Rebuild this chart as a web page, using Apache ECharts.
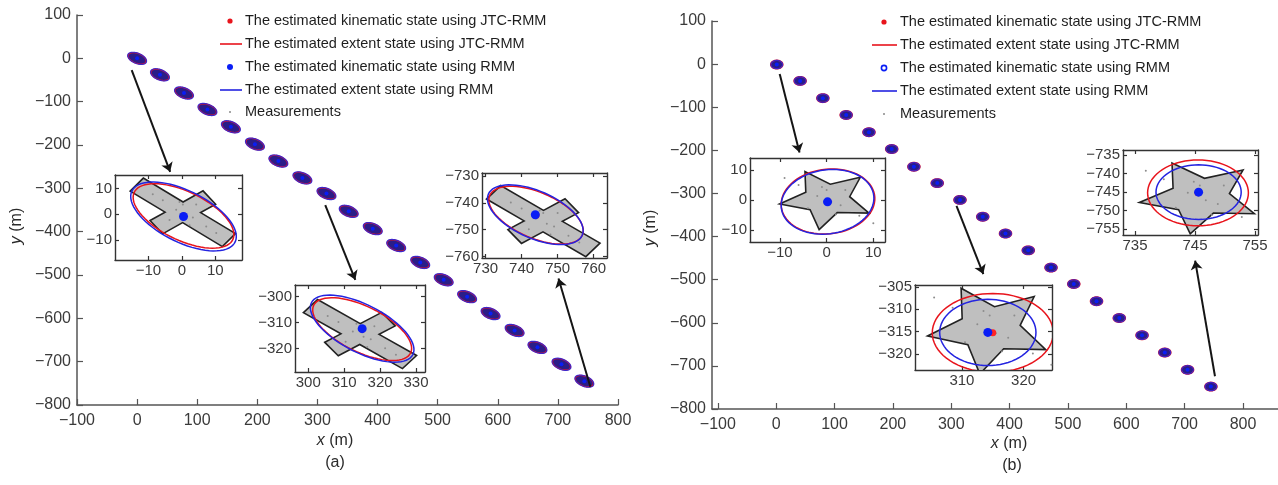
<!DOCTYPE html>
<html>
<head>
<meta charset="utf-8">
<title>JTC-RMM vs RMM tracking</title>
<script src="https://cdn.jsdelivr.net/npm/echarts@6/dist/echarts.min.js"></script>
<style>
html, body { margin: 0; padding: 0; background: #fff; }
#chart { width: 1278px; height: 485px; }
</style>
</head>
<body>
<div id="chart"></div>
<script>
// ---------- values ----------
// (a) cross target: estimated centre at each scan
const aCenterX = [0, 38, 78, 117, 156, 196, 235, 275, 315, 352, 392, 431, 471, 510, 549, 588, 628, 666, 706, 744];
const aCenterY = [0, -38, -80, -118, -158, -198, -237, -276, -312, -353, -393, -432, -471, -511, -550, -589, -628, -667, -706, -745];
// (b) star target
const bCenterX = [1, 41, 80, 120, 159, 198, 236, 276, 315, 354, 393, 432, 471, 510, 549, 588, 627, 666, 705, 745];
const bCenterY = [-1, -39, -79, -118, -158, -197, -238, -276, -315, -354, -393, -432, -472, -510, -550, -589, -629, -669, -709, -748];

// extent ellipses on the track: [semi axis 1, semi axis 2, orientation deg]
const aTrackJtcExt = [17, 10.5, -37];
const aTrackRmmExt = [18, 11, -38];
const bTrackJtcExt = [10.5, 10, 0];
const bTrackRmmExt = [10, 9.6, 0];

// zoomed scans (insets 1..3), scans 0, 8, 19
const aZoomJtc = [[0.5, -0.7], [315, -312.5], [744, -744.6]];
const aZoomRmm = [[0.5, -0.9], [315, -312.3], [743.8, -744.4]];
const aZoomTruth = [[0.3, 0.7], [314.4, -314.4], [746, -746.8]];
const aZoomJtcExt = [[17.5, 8.8, -36], [16.5, 8, -39], [15, 8, -35]];
const aZoomRmmExt = [[18.5, 9.3, -37], [17.5, 8.3, -40], [15.3, 8.2, -36]];

const bZoomJtc = [[0.3, -0.5], [315, -315.3], [745.5, -745.2]];
const bZoomRmm = [[0.2, -0.6], [314.2, -315.2], [745.6, -745]];
const bZoomTruth = [[0, 0.3], [314.5, -314.4], [745.8, -746.2]];
const bZoomJtcExt = [[11, 9.8, 65], [9.8, 8.8, 0], [8.4, 8.9, 0]];
const bZoomRmmExt = [[11, 9.6, 62], [7.8, 7.4, 0], [7.1, 7.4, 0]];

// true shapes: cross = two bars [half length, half width, angle deg]; star = [outer r, inner r, first tip deg]
const crossBars = [[17.5, 3.2, -38], [9.8, 3.2, 36]];
const starShape = [10.2, 5, 45];
// a few measurement points, relative to the true centre
const measOffsets = [[-6, 4.7], [-2, 1], [3, -2], [7, -5.5], [1, -1], [4, 3], [-4, -3], [10, -8], [-9, 7], [0, 3], [2, -5], [-1, 4]];

// arrows in main-axis coordinates: [tail, head]
const aArrows = [[[-9, -27], [55, -262]], [[313, -339], [363, -511]], [[754, -758], [701, -508]]];
const bArrows = [[[6, -23], [40, -205]], [[309, -329], [355, -487]], [[752, -724], [718, -456]]];

// tick values
const mainXTicks = [-100, 0, 100, 200, 300, 400, 500, 600, 700, 800];
const mainYTicks = [-800, -700, -600, -500, -400, -300, -200, -100, 0, 100];
const zoomTicks = [
  [[-10, 0, 10], [-10, 0, 10]],
  [[300, 310, 320, 330], [-320, -310, -300]],
  [[730, 740, 750, 760], [-760, -750, -740, -730]],
  [[-10, 0, 10], [-10, 0, 10]],
  [[310, 320], [-320, -315, -310, -305]],
  [[735, 745, 755], [-755, -750, -745, -740, -735]]
];

// ---------- layout ----------
const FONT = '"Liberation Sans", Arial, Helvetica, sans-serif';
// [left, top, width, height] of each axes box, and its [x range, y range]
const boxes = [
  [77, 15, 541, 390], [115, 175, 127, 85], [295, 285, 130, 87], [482, 173, 125, 85],
  [712, 21, 566, 388], [750, 158, 135, 84], [915, 285, 137, 85], [1123, 150, 135, 85]
];
const ranges = [
  [[-100, 800], [-800, 100]],
  [[-20, 18], [-17.8, 15.2]],
  [[296.3, 332.5], [-329, -295.5]],
  [[729, 763.7], [-760.6, -728.8]],
  [[-110, 860], [-800, 100]],
  [[-16.4, 12.5], [-13.9, 13.9]],
  [[302.4, 324.6], [-323.6, -304.6]],
  [[733, 755.5], [-756.6, -733.6]]
];

const minus = v => String(v).replace('-', '\u2212');

const grids = [], xAxes = [], yAxes = [], xIdx = [], yIdx = [];
function axis(g, pos, ticks, range, labels, main) {
  const col = main ? '#555' : '#333';
  return {
    type: 'value', gridIndex: g, position: pos, min: range[0], max: range[1],
    axisLine: { show: true, onZero: false, lineStyle: { color: col, width: main ? 1.5 : 1.4 } },
    axisTick: { show: true, inside: true, length: main ? 6 : 4, customValues: ticks, lineStyle: { color: col, width: 1.2 } },
    axisLabel: {
      show: labels, customValues: ticks, formatter: minus,
      margin: main ? (pos === 'left' ? 6 : 8) : 3,
      fontSize: main ? 16 : 15, color: '#3a3a3a', fontFamily: FONT
    },
    splitLine: { show: false }
  };
}
boxes.forEach((b, g) => {
  const main = g === 0 || g === 4;
  grids.push({
    left: b[0], top: b[1], width: b[2], height: b[3],
    show: !main, backgroundColor: '#fff', borderWidth: 0
  });
  const zt = main ? [mainXTicks, mainYTicks] : zoomTicks[g < 4 ? g - 1 : g - 2];
  xIdx[g] = xAxes.length;
  xAxes.push(axis(g, 'bottom', zt[0], ranges[g][0], true, main));
  if (!main) xAxes.push(axis(g, 'top', zt[0], ranges[g][0], false, false));
  yIdx[g] = yAxes.length;
  yAxes.push(axis(g, 'left', zt[1], ranges[g][1], true, main));
  if (!main) yAxes.push(axis(g, 'right', zt[1], ranges[g][1], false, false));
});

// ---------- shape geometry ----------
function ellipsePts(c, e) {
  const r = e[2] * Math.PI / 180, pts = [];
  for (let i = 0; i < 72; i++) {
    const t = 2 * Math.PI * i / 72;
    const u = e[0] * Math.cos(t), v = e[1] * Math.sin(t);
    pts.push([c[0] + u * Math.cos(r) - v * Math.sin(r), c[1] + u * Math.sin(r) + v * Math.cos(r)]);
  }
  return pts;
}
function starPts(c, s) {
  const pts = [];
  for (let i = 0; i < 10; i++) {
    const r = i % 2 ? s[1] : s[0];
    const a = (s[2] + i * 36) * Math.PI / 180;
    pts.push([c[0] + r * Math.cos(a), c[1] + r * Math.sin(a)]);
  }
  return pts;
}
function crossPts(c, bars) {
  const dir = b => { const t = b[2] * Math.PI / 180; return [Math.cos(t), Math.sin(t)]; };
  const pts = [];
  bars.forEach(b => {
    const d = dir(b), n = [-d[1], d[0]];
    [1, -1].forEach(s1 => [1, -1].forEach(s2 =>
      pts.push([s1 * b[0] * d[0] + s2 * b[1] * n[0], s1 * b[0] * d[1] + s2 * b[1] * n[1]])));
  });
  // inner corners where the bar edges meet
  const dA = dir(bars[0]), nA = [-dA[1], dA[0]], dB = dir(bars[1]), nB = [-dB[1], dB[0]];
  const det = nA[0] * nB[1] - nA[1] * nB[0];
  [1, -1].forEach(sa => [1, -1].forEach(sb => {
    const ha = sa * bars[0][1], hb = sb * bars[1][1];
    pts.push([(ha * nB[1] - hb * nA[1]) / det, (nA[0] * hb - nB[0] * ha) / det]);
  }));
  pts.sort((p, q) => Math.atan2(p[1], p[0]) - Math.atan2(q[1], q[0]));
  return pts.map(p => [c[0] + p[0], c[1] + p[1]]);
}

// ---------- series helpers ----------
function polySeries(g, shapes, centres, style, z) {
  return {
    type: 'custom', coordinateSystem: 'cartesian2d', xAxisIndex: xIdx[g], yAxisIndex: yIdx[g],
    clip: true, silent: true, z: z,
    data: centres,
    renderItem: (params, api) => ({
      type: 'polygon',
      shape: { points: shapes[params.dataIndex].map(p => api.coord(p)) },
      style: Object.assign({}, style)
    })
  };
}
function dotSeries(g, pts, size, style, z) {
  return {
    type: 'scatter', xAxisIndex: xIdx[g], yAxisIndex: yIdx[g], data: pts,
    symbol: 'circle', symbolSize: size, itemStyle: Object.assign({ opacity: 1 }, style),
    silent: true, z: z, animation: false
  };
}
function arrowSeries(g, arrows) {
  return {
    type: 'lines', coordinateSystem: 'cartesian2d', xAxisIndex: xIdx[g], yAxisIndex: yIdx[g],
    symbol: ['none', 'arrow'], symbolSize: 9, silent: true, z: 10,
    lineStyle: { color: '#151515', width: 2, opacity: 1, curveness: 0 },
    data: arrows.map(a => ({ coords: a }))
  };
}

const RED = '#e8141c', BLUE = '#2424e0', DOT = '#0a1ef5', NAVY = '#2a1d88';
const series = [];

function trackSeries(g, xs, ys, jtcExt, rmmExt) {
  const c = xs.map((x, i) => [x, ys[i]]);
  series.push(polySeries(g, c.map(p => ellipsePts(p, rmmExt)), c, { fill: NAVY, stroke: 'none' }, 2));
  series.push(polySeries(g, c.map(p => ellipsePts(p, jtcExt)), c, { fill: 'none', stroke: RED, lineWidth: 1.3 }, 3));
  series.push(polySeries(g, c.map(p => ellipsePts(p, rmmExt)), c, { fill: 'none', stroke: BLUE, lineWidth: 1.2, opacity: 0.85 }, 4));
  series.push(dotSeries(g, c, 4, { color: DOT }, 5));
}
trackSeries(0, aCenterX, aCenterY, aTrackJtcExt, aTrackRmmExt);
trackSeries(4, bCenterX, bCenterY, bTrackJtcExt, bTrackRmmExt);

function zoomSeries(g, truth, shapeFn, jtc, rmm, jtcExt, rmmExt) {
  series.push(polySeries(g, [shapeFn(truth)], [truth], { fill: '#bfbfbf', stroke: '#222', lineWidth: 1.6 }, 3));
  series.push(dotSeries(g, measOffsets.map(o => [truth[0] + o[0], truth[1] + o[1]]), 2, { color: '#8c8c8c' }, 4));
  series.push(polySeries(g, [ellipsePts(jtc, jtcExt)], [jtc], { fill: 'none', stroke: RED, lineWidth: 1.5 }, 5));
  series.push(polySeries(g, [ellipsePts(rmm, rmmExt)], [rmm], { fill: 'none', stroke: BLUE, lineWidth: 1.5 }, 6));
  series.push(dotSeries(g, [jtc], 7, { color: '#ff2424' }, 7));
  series.push(dotSeries(g, [rmm], 9, { color: DOT }, 8));
}
for (let k = 0; k < 3; k++) {
  zoomSeries(k + 1, aZoomTruth[k], c => crossPts(c, crossBars), aZoomJtc[k], aZoomRmm[k], aZoomJtcExt[k], aZoomRmmExt[k]);
  zoomSeries(k + 5, bZoomTruth[k], c => starPts(c, starShape), bZoomJtc[k], bZoomRmm[k], bZoomJtcExt[k], bZoomRmmExt[k]);
}
series.push(arrowSeries(0, aArrows));
series.push(arrowSeries(4, bArrows));

// ---------- legends, axis names, captions ----------
const legendTexts = [
  'The estimated kinematic state using JTC-RMM',
  'The estimated extent state using JTC-RMM',
  'The estimated kinematic state using RMM',
  'The estimated extent state using RMM',
  'Measurements'
];
const graphics = [];
function legend(textX, lineX0, lineX1, dotX, rows, hollow) {
  graphics.push({ type: 'circle', shape: { cx: dotX, cy: rows[0], r: 2.6 }, style: { fill: RED } });
  graphics.push({ type: 'line', shape: { x1: lineX0, y1: rows[1], x2: lineX1, y2: rows[1] }, style: { stroke: RED, lineWidth: 1.6 } });
  graphics.push(hollow
    ? { type: 'circle', shape: { cx: dotX, cy: rows[2], r: 2.6 }, style: { fill: '#fff', stroke: DOT, lineWidth: 1.6 } }
    : { type: 'circle', shape: { cx: dotX, cy: rows[2], r: 3 }, style: { fill: DOT } });
  graphics.push({ type: 'line', shape: { x1: lineX0, y1: rows[3], x2: lineX1, y2: rows[3] }, style: { stroke: BLUE, lineWidth: 1.6 } });
  graphics.push({ type: 'circle', shape: { cx: dotX, cy: rows[4], r: 1 }, style: { fill: '#888' } });
  legendTexts.forEach((t, i) => graphics.push({
    type: 'text', x: textX, y: rows[i],
    style: { text: t, font: '14.5px ' + FONT, fill: '#1e1e1e', textAlign: 'left', textVerticalAlign: 'middle' }
  }));
}
legend(245, 220, 242, 230, [21, 44, 67, 90, 112], false);
legend(900, 872, 897, 884, [22, 45, 68, 91, 114], true);

const nameRich = { i: { fontStyle: 'italic', fontSize: 16, fontFamily: FONT, fill: '#2a2a2a' } };
function label(x, y, text, rot, size) {
  graphics.push({
    type: 'text', x: x, y: y, rotation: rot,
    style: { text: text, rich: nameRich, font: size + 'px ' + FONT, fill: '#2a2a2a', textAlign: 'center', textVerticalAlign: 'middle' }
  });
}
label(17, 226, '{i|y} (m)', Math.PI / 2, 16);
label(651, 228, '{i|y} (m)', Math.PI / 2, 16);
label(335, 441, '{i|x} (m)', 0, 16);
label(1009, 444, '{i|x} (m)', 0, 16);
label(335, 463, '(a)', 0, 16);
label(1012, 466, '(b)', 0, 16);

const chart = echarts.init(document.getElementById('chart'));
chart.setOption({
  animation: false,
  backgroundColor: '#fff',
  grid: grids,
  xAxis: xAxes,
  yAxis: yAxes,
  series: series,
  graphic: { elements: graphics }
});
</script>
</body>
</html>
